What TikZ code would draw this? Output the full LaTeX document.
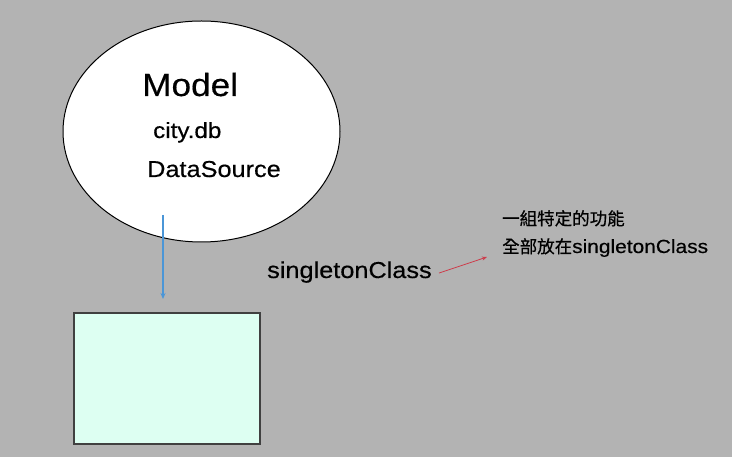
\documentclass[tikz,border=0pt]{standalone}
\usepackage{fontspec}
\setmainfont{Liberation Sans}[FakeStretch=1.1, FakeBold=0.4]
\newfontfamily\cjk{Noto Sans CJK TC}[FakeBold=0.6]
\usepackage{xcolor}
\usepackage{tikz}
\usetikzlibrary{shapes.geometric, arrows.meta, positioning}
\definecolor{bggray}{RGB}{179,179,179}
\definecolor{mint}{RGB}{221,255,242}
\definecolor{linkblue}{RGB}{75,150,215}
\definecolor{notered}{RGB}{205,60,75}
\tikzset{
    model/.style={
        ellipse,
        draw=black,
        line width=1pt,
        fill=white,
        inner sep=0pt,
        minimum width=277pt,
        minimum height=221pt
    },
    panel/.style={
        rectangle,
        draw=black!75,
        line width=1.2pt,
        fill=mint,
        minimum width=186pt,
        minimum height=131pt
    },
    label/.style={
        anchor=base west,
        inner sep=0pt,
        text=black
    },
    flow/.style={
        draw=linkblue,
        line width=1.2pt,
        -{Stealth[length=6pt,width=5pt]}
    },
    pointer/.style={
        draw=notered,
        line width=0.8pt,
        -{Stealth[length=5pt,width=4pt]}
    }
}

\begin{document}
\begin{tikzpicture}[x=1pt, y=-1pt]

% Background
\fill[bggray] (0,0) rectangle (732,457);
\useasboundingbox (0,0) rectangle (732,457);

% Model ellipse
\node[model] (model) at (201.5,131.5) {};
\node[label, font=\fontsize{32}{36}\selectfont] (title) at (142,96) {Model};
\node[label, font=\fontsize{22}{26}\selectfont] (db) at (153,138) {city.db};
\node[label, font=\fontsize{23}{27}\selectfont] (source) at (147,177) {DataSource};

% Lower panel
\node[panel] (box) at (167,378.5) {};

% Link from model down to panel
\coordinate (flowstart) at (163,215);
\coordinate (flowend) at (163,299);
\draw[flow] (flowstart) -- (flowend);

% Singleton note
\node[label, font=\fontsize{23}{27}\selectfont] (single) at (267,278) {singletonClass};
\node[label, font=\fontsize{17.5}{20}\selectfont] (note1) at (502,225) {\cjk 一組特定的功能};
\node[label, font=\fontsize{19}{21}\selectfont] (note2) at (502,253) {{\cjk\fontsize{17.5}{20}\selectfont 全部放在}singletonClass};
\coordinate (notetip) at (487,257);
\draw[pointer] ([xshift=7pt,yshift=-1pt]single.east) -- (notetip);

\end{tikzpicture}
\end{document}
